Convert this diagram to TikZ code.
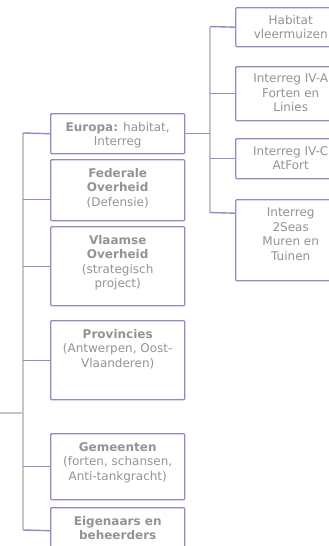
\documentclass[tikz,border=0pt]{standalone}
\usepackage{fontspec}
\setmainfont{DejaVu Sans}
\definecolor{boxc}{HTML}{8E8EC6}
\definecolor{trunkc}{HTML}{C6C6C6}
\definecolor{txtc}{HTML}{939393}
\tikzset{
  orgbox/.style={draw=boxc, line width=1.4pt, rounded corners=1pt, anchor=north west, inner sep=0pt},
  lbl/.style={anchor=north, inner sep=0pt, align=center, text=txtc, font=\fontsize{12}{14.5}\selectfont},
  trunk/.style={draw=trunkc, line width=1.8pt},
  stub/.style={draw=boxc, line width=1.4pt}
}
\begin{document}
\begin{tikzpicture}[x=1pt,y=-1pt]
\useasboundingbox (0,0) rectangle (329,546);
\begin{scope}
\clip (0,0) rectangle (329,546);
% left column boxes
\node[orgbox, minimum width=134pt, minimum height=40pt] (eu) at (50,113) {};
\node[orgbox, minimum width=134pt, minimum height=61pt] (fed) at (50,159) {};
\node[orgbox, minimum width=134pt, minimum height=79pt] (vla) at (50,226) {};
\node[orgbox, minimum width=134pt, minimum height=79pt] (prov) at (50,320) {};
\node[orgbox, minimum width=134pt, minimum height=66pt] (gem) at (50,433) {};
\node[orgbox, minimum width=134pt, minimum height=46pt] (eig) at (50,507) {};
% right column boxes
\node[orgbox, minimum width=110pt, minimum height=39pt] (hab) at (235,7) {};
\node[orgbox, minimum width=110pt, minimum height=54pt] (iva) at (235,66) {};
\node[orgbox, minimum width=110pt, minimum height=40pt] (ivc) at (235,138) {};
\node[orgbox, minimum width=110pt, minimum height=81pt] (seas) at (235,199) {};
% labels
\node[lbl] (teu) at ([yshift=-9pt]eu.north) {\textbf{Europa:} habitat,\\Interreg};
\node[lbl] (tfed) at ([yshift=-9pt]fed.north) {\textbf{Federale}\\\textbf{Overheid}\\(Defensie)};
\node[lbl] (tvla) at ([yshift=-9pt]vla.north) {\textbf{Vlaamse}\\\textbf{Overheid}\\(strategisch\\project)};
\node[lbl] (tprov) at ([yshift=-9pt]prov.north) {\textbf{Provincies}\\(Antwerpen, Oost-\\Vlaanderen)};
\node[lbl] (tgem) at ([yshift=-9pt]gem.north) {\textbf{Gemeenten}\\(forten, schansen,\\Anti-tankgracht)};
\node[lbl] (teig) at ([yshift=-9pt]eig.north) {\textbf{Eigenaars en}\\\textbf{beheerders}};
\node[lbl] (thab) at ([yshift=-8pt]hab.north) {Habitat\\vleermuizen};
\node[lbl] (tiva) at ([yshift=-8pt]iva.north) {Interreg IV-A\\Forten en\\Linies};
\node[lbl] (tivc) at ([yshift=-8pt]ivc.north) {Interreg IV-C\\AtFort};
\node[lbl] (tseas) at ([yshift=-9pt]seas.north) {Interreg\\2Seas\\Muren en\\Tuinen};
% left trunk
\coordinate (lt) at (23,133);
\coordinate (lb) at (23,530);
\coordinate (lin) at (0,413);
\coordinate (ljoin) at (23,413);
\draw[trunk] (lt) -- (lb);
\draw[trunk] (lin) -- (ljoin);
\draw[stub] (lt) -- (eu.west);
\draw[stub] ([yshift=-9.5pt]fed.west -| lt) -- ([yshift=-9.5pt]fed.west);
\draw[stub] (vla.west -| lt) -- (vla.west);
\draw[stub] (prov.west -| lt) -- (prov.west);
\draw[stub] (gem.west -| lt) -- (gem.west);
\draw[stub] (lb) -- (eig.west);
% right trunk
\coordinate (rt) at (210,26.5);
\coordinate (rb) at (210,212.5);
\draw[trunk] (rt) -- (rb);
\draw[stub] (eu.east) -- (eu.east -| rt);
\draw[stub] (rt) -- (hab.west);
\draw[stub] (iva.west -| rt) -- (iva.west);
\draw[stub] (ivc.west -| rt) -- (ivc.west);
\draw[stub] (rb) -- ([yshift=27pt]seas.west);
\end{scope}
\end{tikzpicture}
\end{document}
